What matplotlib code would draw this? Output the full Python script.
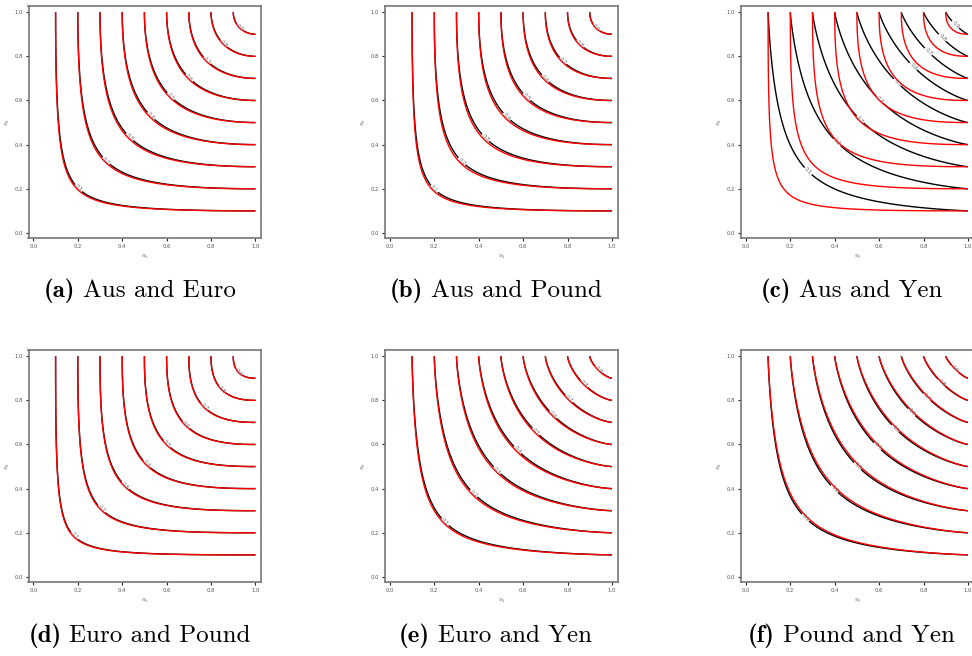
import matplotlib
matplotlib.use('Agg')
import matplotlib.pyplot as plt
import numpy as np

plt.rcParams['mathtext.fontset'] = 'cm'

# panel captions
letters = ['a', 'b', 'c', 'd', 'e', 'f']
pairs = ['Aus and Euro', 'Aus and Pound', 'Aus and Yen',
         'Euro and Pound', 'Euro and Yen', 'Pound and Yen']

fitted_theta = [1.90, 1.95, 1.17, 2.25, 1.38, 1.24]
empirical_theta = [1.97, 2.05, 2.25, 2.30, 1.42, 1.21]

levels = [0.1, 0.2, 0.3, 0.4, 0.5, 0.6, 0.7, 0.8, 0.9]
ticks = [0.0, 0.2, 0.4, 0.6, 0.8, 1.0]


def gumbel(u, v, theta):
    s = (-np.log(u)) ** theta + (-np.log(v)) ** theta
    return np.exp(-s ** (1.0 / theta))


grid = np.linspace(0.0005, 1.0, 500)
U, V = np.meshgrid(grid, grid)

fig = plt.figure(figsize=(9.72, 6.56), dpi=100)
W, H = 972.0, 656.0
renderer = fig.canvas.get_renderer()

col_left = [28.5, 385.0, 741.0]
row_top = [6.0, 350.0]
box_w, box_h = 232.5, 232.0
caption_y = [291.0, 636.0]
caption_x = [139.5, 495.5, 851.5]

for i in range(6):
    r, c = divmod(i, 3)
    ax = fig.add_axes([col_left[c] / W, 1 - (row_top[r] + box_h) / H,
                       box_w / W, box_h / H])

    Cb = gumbel(U, V, fitted_theta[i])
    Cr = gumbel(U, V, empirical_theta[i])
    cs = ax.contour(U, V, Cb, levels=levels, colors='black', linewidths=1.0)
    ax.contour(U, V, Cr, levels=levels, colors='red', linewidths=1.0)

    # labels near the diagonal of each fitted contour
    a = 2 ** (1.0 / fitted_theta[i])
    pos = [(lv ** (1 / a), lv ** (1 / a)) for lv in levels]
    ax.clabel(cs, fmt='%.1f', fontsize=3.8, colors='#666666',
              inline=True, inline_spacing=1, manual=pos)

    ax.set_xlim(-0.022, 1.025)
    ax.set_ylim(-0.023, 1.028)
    ax.set_xticks(ticks)
    ax.set_yticks(ticks)
    ax.set_xticklabels([f'{t:.1f}' for t in ticks])
    ax.set_yticklabels([f'{t:.1f}' for t in ticks])
    ax.tick_params(labelsize=3.8, labelcolor='#555555', length=2.2,
                   width=0.8, color='#222222', pad=2)
    for sp in ax.spines.values():
        sp.set_color('#777777')
        sp.set_linewidth(1.2)
    ax.set_xlabel(r'$u_1$', fontsize=4.5, color='#555555', labelpad=3)
    ax.set_ylabel(r'$u_2$', fontsize=4.5, color='#555555', labelpad=2)

    # caption: bold "(x)" followed by the currency pair, centred as one line
    yc = 1 - caption_y[r] / H
    tb = fig.text(0, yc, f'({letters[i]})', family='cmb10', fontsize=18,
                  ha='left', va='center')
    tr = fig.text(0, yc, pairs[i], family='cmr10', fontsize=18,
                  ha='left', va='center')
    wb = tb.get_window_extent(renderer).width
    wr = tr.get_window_extent(renderer).width
    gap = 8.0
    x0 = caption_x[c] - (wb + gap + wr) / 2
    tb.set_x(x0 / W)
    tr.set_x((x0 + wb + gap) / W)

fig.savefig('out.png', dpi=100)
plt.close(fig)
